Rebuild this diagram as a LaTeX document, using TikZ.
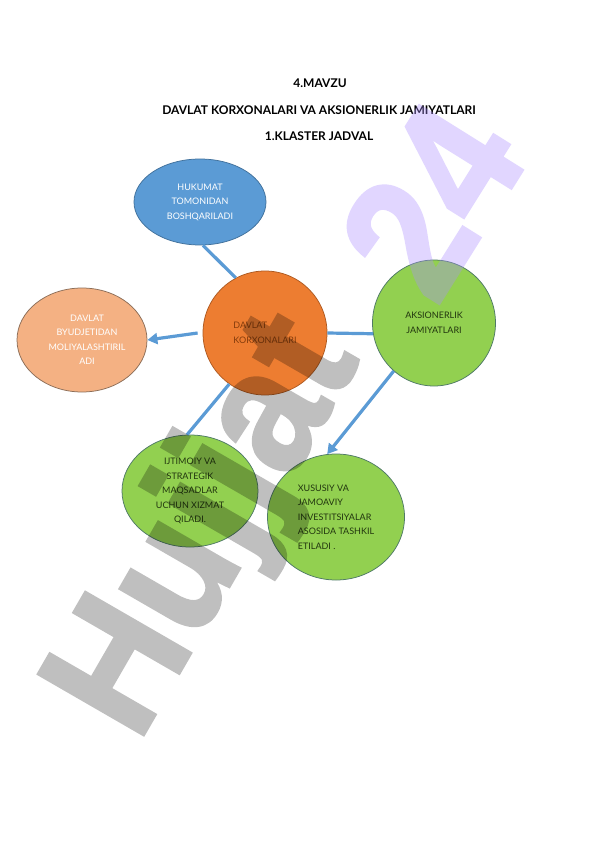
\documentclass[tikz,border=0pt]{standalone}
\usepackage{fontspec}
\setmainfont{Lato}
\newfontfamily\wmfont[FakeBold=2]{Liberation Sans}
\usetikzlibrary{shapes.geometric,arrows.meta}
\definecolor{cblue}{HTML}{5B9BD5}
\definecolor{cblueb}{HTML}{41719C}
\definecolor{cpeach}{HTML}{F4B183}
\definecolor{cpeachb}{HTML}{8C6E58}
\definecolor{corange}{HTML}{ED7D31}
\definecolor{coranb}{HTML}{AE5A21}
\definecolor{cgreen}{HTML}{92D050}
\definecolor{cgreenb}{HTML}{4F7A66}
\definecolor{cbrown}{HTML}{843C0C}
\definecolor{cdark}{HTML}{22360F}
\definecolor{clav}{RGB}{170,140,255}
\begin{document}
\begin{tikzpicture}[x=1pt,y=-1pt,
  titletext/.style={font=\bfseries\fontsize{12}{14}\selectfont, text=black},
  bubble/.style={ellipse, inner sep=0pt, line width=0.75pt, align=center,
    font=\fontsize{9}{14.5}\selectfont},
  link/.style={draw=cblue, line width=3.2pt},
  arrowlink/.style={link, -{Triangle[length=10pt,width=11pt]}},
  wm/.style={anchor=base west, inner sep=0pt,
    font=\wmfont\bfseries\fontsize{160}{160}\selectfont}
]
\useasboundingbox (0,0) rectangle (596,842);
\fill[white] (0,0) rectangle (596,842);

\node[titletext] (t1) at (320,83) {4.MAVZU};
\node[titletext] (t2) at (319,110) {DAVLAT KORXONALARI VA AKSIONERLIK JAMIYATLARI};
\node[titletext] (t3) at (319,136) {1.KLASTER JADVAL};

\node[bubble, fill=cblue, draw=cblueb, text=white,
  minimum width=132pt, minimum height=86pt] (huk) at (200,202)
  {HUKUMAT\\TOMONIDAN\\BOSHQARILADI};
\node[bubble, fill=cpeach, draw=cpeachb, text=white,
  minimum width=130pt, minimum height=104pt] (peach) at (82,340)
  {\hspace*{10pt}DAVLAT\\\hspace*{10pt}BYUDJETIDAN\\\hspace*{10pt}MOLIYALASHTIRIL\\\hspace*{10pt}ADI};
\node[bubble, fill=corange, draw=coranb, text=cbrown, align=left,
  minimum width=124pt, minimum height=124pt] (dk) at (265,333)
  {DAVLAT\\KORXONALARI};
\node[bubble, fill=cgreen, draw=cgreenb, text=cdark,
  minimum width=123pt, minimum height=126pt] (aks) at (434,323)
  {AKSIONERLIK\\JAMIYATLARI};
\node[bubble, fill=cgreen, draw=cgreenb, text=cdark,
  minimum width=136pt, minimum height=112pt] (ijt) at (190,491)
  {IJTIMOIY VA\\STRATEGIK\\MAQSADLAR\\UCHUN XIZMAT\\QILADI.};
\node[bubble, fill=cgreen, draw=cgreenb, text=cdark, align=left,
  minimum width=137pt, minimum height=126pt] (xus) at (336,517)
  {XUSUSIY VA\\JAMOAVIY\\INVESTITSIYALAR\\ASOSIDA TASHKIL\\ETILADI .};

\draw[link] (huk.-86) -- (dk.118);
\draw[arrowlink] ([xshift=-5pt]dk.west) -- (peach.east);
\draw[link] (dk.east) -- (aks.190);
\draw[link] (dk.235) -- (ijt.93);
\draw[arrowlink] (aks.230) -- (xus.98);

\begin{scope}[transparency group, opacity=0.25]
\node[wm, rotate=60, yscale=1.1, text=black] (wm1) at (138,744) {Hujjat};
\end{scope}
\begin{scope}[transparency group, opacity=0.35]
\node[wm, rotate=58, yscale=1.1, text=clav] (wm2) at (436,308) {24};
\end{scope}
\end{tikzpicture}
\end{document}
